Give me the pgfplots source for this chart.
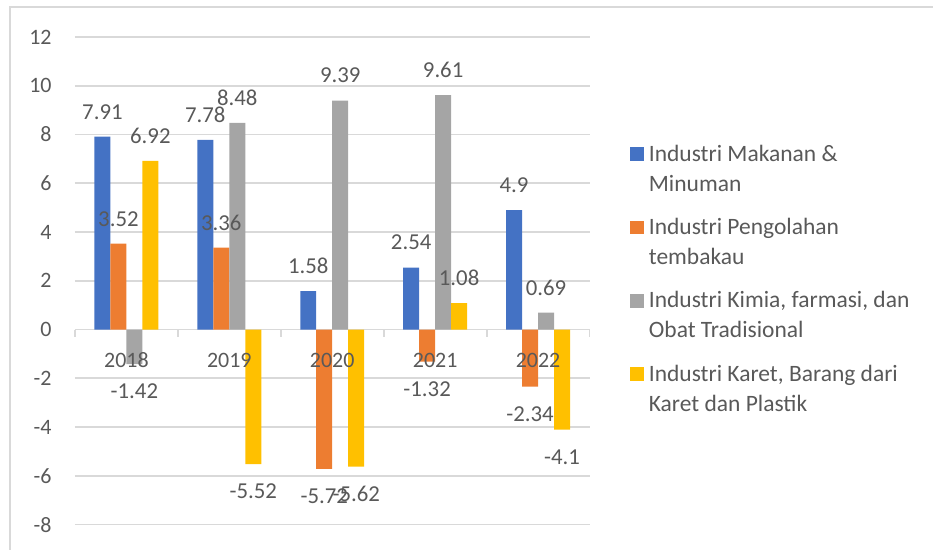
\documentclass[border=0pt]{standalone}
\usepackage{pgfplots}
\pgfplotsset{compat=1.18}
\usepackage{pgfplotstable}
\usepackage{fontspec}
\setmainfont{Carlito}
\definecolor{c1}{HTML}{4472C4}
\definecolor{c2}{HTML}{ED7D31}
\definecolor{c3}{HTML}{A5A5A5}
\definecolor{c4}{HTML}{FFC000}
\definecolor{txt}{HTML}{595959}
\definecolor{grd}{HTML}{D9D9D9}

\pgfplotstableread{
x a b c d
0 7.91 3.52 -1.42 6.92
1 7.78 3.36 8.48 -5.52
2 1.58 -5.72 9.39 -5.62
3 2.54 -1.32 9.61 1.08
4 4.9 -2.34 0.69 -4.1
}\datatable

\newcommand{\lent}[2]{{\fontsize{11.75}{15}\selectfont\begin{tabular}[t]{@{}l@{}}#1\\#2\end{tabular}}}

\begin{document}
\begin{tikzpicture}
\path (0,0) rectangle (467pt,275pt);
\draw[grd, line width=0.75pt] (5pt,0pt) -- (5pt,271.5pt) -- (467pt,271.5pt);
\begin{axis}[
  set layers,
  at={(37.5pt,12.5pt)}, anchor=south west,
  scale only axis, width=257.5pt, height=244pt,
  xmin=-0.5, xmax=4.5, ymin=-8, ymax=12,
  enlargelimits=false,
  axis x line=middle, axis y line=left,
  hide obscured x ticks=false, hide obscured y ticks=false,
  x axis line style={grd, line width=0.9pt, -},
  y axis line style={draw=none},
  ytick={-8,-6,...,12},
  yticklabels={-8,-6,-4,-2,0,2,4,6,8,10,12},
  ytick style={draw=none},
  yticklabel style={anchor=east, inner sep=0pt, xshift=-11.5pt},
  xtick={0,...,4},
  xticklabels={2018,2019,2020,2021,2022},
  xticklabel style={anchor=center, inner sep=0pt, yshift=-15.5pt, /pgfplots/on layer=axis foreground},
  minor xtick={-0.5,0.5,...,4.5},
  major tick length=0pt,
  minor tick length=3.5pt,
  tick align=outside,
  minor tick style={grd, line width=0.9pt},
  ymajorgrids,
  grid style={grd, line width=0.9pt},
  tick label style={font=\fontsize{11}{13}\selectfont, text=txt},
  ybar=0pt, bar width=8pt,
  nodes near coords,
  point meta=explicit symbolic,
  visualization depends on={rawy \as \rawy},
  every node near coord/.append style={font=\fontsize{11.4}{13}\selectfont, text=txt, anchor=center, inner sep=0pt, yshift={ifthenelse(\rawy>0,12.5,-13.75)}},
  legend style={draw=none, fill=none, at={(1.0777,0.781)}, anchor=north west, inner sep=0pt, row sep=0pt,
    text=txt, nodes={inner sep=0pt, text height=8.5pt, text depth=28.2pt},
    /tikz/every odd column/.append style={column sep=2.5pt}},
  legend cell align=left,
  legend image code/.code={\fill[#1] (0pt,9.85pt) rectangle (7pt,16.85pt);},
]
\addplot[fill=c1, draw=none] table[x=x, y=a, meta=a] {\datatable};
\addlegendentry{\lent{Industri Makanan \&}{Minuman}}
\addplot[fill=c2, draw=none] table[x=x, y=b, meta=b] {\datatable};
\addlegendentry{\lent{Industri Pengolahan}{tembakau}}
\addplot[fill=c3, draw=none] table[x=x, y=c, meta=c] {\datatable};
\addlegendentry{\lent{Industri Kimia, farmasi, dan}{Obat Tradisional}}
\addplot[fill=c4, draw=none] table[x=x, y=d, meta=d] {\datatable};
\addlegendentry{\lent{Industri Karet, Barang dari}{Karet dan Plastik}}
\end{axis}
\end{tikzpicture}
\end{document}
